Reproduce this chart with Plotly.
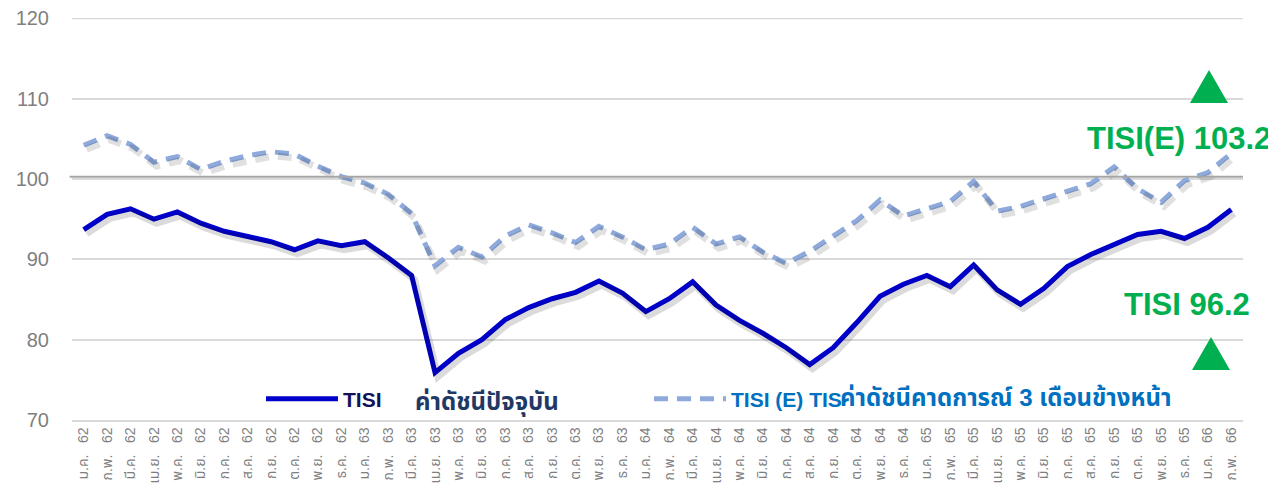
import plotly.graph_objects as go

# ---- data ----
month_names = ["ม.ค.", "ก.พ.", "มี.ค.", "เม.ย.", "พ.ค.", "มิ.ย.",
               "ก.ค.", "ส.ค.", "ก.ย.", "ต.ค.", "พ.ย.", "ธ.ค."]
years = ["62", "63", "64", "65", "66"]
categories = [f"{m} {y}" for y in years for m in month_names][:50]

tisi = [93.7, 95.6, 96.3, 95.0, 95.9, 94.5, 93.5, 92.8, 92.2, 91.2,
        92.3, 91.7, 92.2, 90.2, 88.0, 75.9, 78.3, 80.0, 82.5, 84.0,
        85.1, 85.9, 87.3, 85.8, 83.5, 85.1, 87.2, 84.3, 82.4, 80.8,
        79.0, 76.9, 79.0, 82.1, 85.4, 86.9, 88.0, 86.6, 89.3, 86.2,
        84.4, 86.4, 89.1, 90.6, 91.9, 93.1, 93.5, 92.6, 94.0, 96.2]

tisi_e = [104.2, 105.4, 104.3, 102.1, 102.8, 101.2, 102.2, 102.9, 103.4, 103.1,
          101.6, 100.3, 99.5, 98.1, 95.7, 89.2, 91.5, 90.3, 92.9, 94.3,
          93.3, 92.1, 94.1, 92.8, 91.2, 91.9, 94.0, 91.9, 92.8, 90.9,
          89.5, 91.0, 92.9, 94.8, 97.4, 95.4, 96.3, 97.2, 99.7, 96.0,
          96.6, 97.5, 98.5, 99.4, 101.5, 98.8, 97.1, 99.8, 100.8, 103.2]

y_ticks = [70, 80, 90, 100, 110, 120]
ref_level = 100.3
label_e = "TISI(E) 103.2"
label_t = "TISI 96.2"

# ---- layout geometry (page body has an 8px margin) ----
OFF = 8
W, H = 1276 - OFF, 490 - OFF
L, R, T, B = 72 - OFF, 33, 18 - OFF, 70
PW, PH = W - L - R, H - T - B

def px(xs):
    return (xs - OFF - L) / PW

def py(ys):
    return (H - B - (ys - OFF)) / PH

FONT = "Liberation Sans, Arial, Noto Sans Thai, Tahoma, sans-serif"
BLUE = "#0000CC"
LBLUE = "#8EA9DB"
GREEN = "#00B050"
GRID = "#D9D9D9"

idx = list(range(len(categories)))
tick_text = [c.replace(" ", "\u00a0\u00a0\u00a0") for c in categories]

fig = go.Figure()

# soft drop shadows under the lines
fig.add_trace(go.Scatter(x=idx, y=tisi_e, xaxis="x3", yaxis="y2", mode="lines",
                         line=dict(color="rgba(0,0,0,0.12)", width=7, dash="14px,9px"),
                         showlegend=False, hoverinfo="skip"))
fig.add_trace(go.Scatter(x=idx, y=tisi, xaxis="x3", yaxis="y2", mode="lines",
                         line=dict(color="rgba(0,0,0,0.14)", width=7),
                         showlegend=False, hoverinfo="skip"))

fig.add_trace(go.Scatter(x=categories, y=tisi, mode="lines", name="<b>TISI</b>",
                         line=dict(color=BLUE, width=5)))
fig.add_trace(go.Scatter(x=categories, y=tisi_e, mode="lines",
                         name="<b><span style='color:#0070C0'>TISI (E) TIS</span></b>",
                         line=dict(color=LBLUE, width=5, dash="14px,9px")))

shapes = [
    dict(type="line", xref="paper", yref="y", x0=0, x1=1, y0=y_ticks[-1], y1=y_ticks[-1],
         line=dict(color=GRID, width=1.5), layer="below"),
    dict(type="line", xref="paper", yref="y", x0=-0.002, x1=1, y0=ref_level, y1=ref_level,
         line=dict(color="#A6A6A6", width=2)),
]

def tri(cx, top, w, h):
    x0, x1, xc = px(cx - w / 2), px(cx + w / 2), px(cx)
    return dict(type="path", xref="paper", yref="paper",
                path=f"M {x0} {py(top + h)} L {x1} {py(top + h)} L {xc} {py(top)} Z",
                fillcolor=GREEN, line=dict(width=0))

shapes.append(tri(1209, 70, 38, 33))
shapes.append(tri(1211, 337, 38, 33))

annotations = [
    dict(xref="paper", yref="paper", x=px(1273), y=py(138), text=f"<b>{label_e}</b>",
         showarrow=False, font=dict(family=FONT, size=31, color=GREEN),
         xanchor="right", yanchor="middle"),
    dict(xref="paper", yref="paper", x=px(1252), y=py(304), text=f"<b>{label_t}</b>",
         showarrow=False, font=dict(family=FONT, size=31, color=GREEN),
         xanchor="right", yanchor="middle"),
    dict(xref="paper", yref="paper", x=px(413), y=py(402), text="<b>ค่าดัชนีปัจจุบัน</b>",
         showarrow=False, font=dict(family=FONT, size=24, color="#1F3864"),
         xanchor="left", yanchor="middle"),
    dict(xref="paper", yref="paper", x=px(838), y=py(397),
         text="<b>ค่าดัชนีคาดการณ์ 3 เดือนข้างหน้า</b>",
         showarrow=False, font=dict(family=FONT, size=24, color="#0070C0"),
         xanchor="left", yanchor="middle"),
]

fig.update_layout(
    width=W, height=H,
    margin=dict(l=L, r=R, t=T, b=B, autoexpand=False),
    paper_bgcolor="white", plot_bgcolor="white",
    font=dict(family=FONT),
    showlegend=True,
    legend=dict(orientation="h", x=px(261), y=py(399), xanchor="left", yanchor="middle",
                bgcolor="rgba(0,0,0,0)", itemwidth=72, entrywidth=301, entrywidthmode="pixels",
                font=dict(family=FONT, size=21, color="#10125A"), traceorder="normal"),
    xaxis=dict(type="category", range=[-0.5, 49.5], tickangle=-90,
               tickvals=categories, ticktext=tick_text,
               tickfont=dict(family=FONT, size=14, color="#7F7F7F"),
               showgrid=False, showline=True, linecolor=GRID, linewidth=1.5,
               ticks="", zeroline=False, automargin=False),
    xaxis2=dict(overlaying="x", anchor="y", side="bottom", type="linear",
                range=[-0.5, 49.5], tick0=-0.5, dtick=2, ticks="outside", ticklen=7,
                tickcolor=GRID, tickwidth=1.5, showticklabels=False,
                showgrid=False, zeroline=False, showline=False, automargin=False),
    xaxis3=dict(overlaying="x", anchor="y", type="linear", range=[-0.62, 49.38],
                visible=False, automargin=False),
    yaxis=dict(range=[70, 120.05], tickvals=y_ticks, showgrid=True, gridcolor=GRID,
               gridwidth=1.5, zeroline=False, showline=False, automargin=False,
               ticklabeloverflow="allow",
               tickfont=dict(family=FONT, size=20, color="#7F7F7F"), ticklabelstandoff=22),
    yaxis2=dict(overlaying="y", anchor="x", range=[70.5, 120.55], visible=False,
                automargin=False),
    shapes=shapes,
    annotations=annotations,
)

fig.write_html("out.html")
